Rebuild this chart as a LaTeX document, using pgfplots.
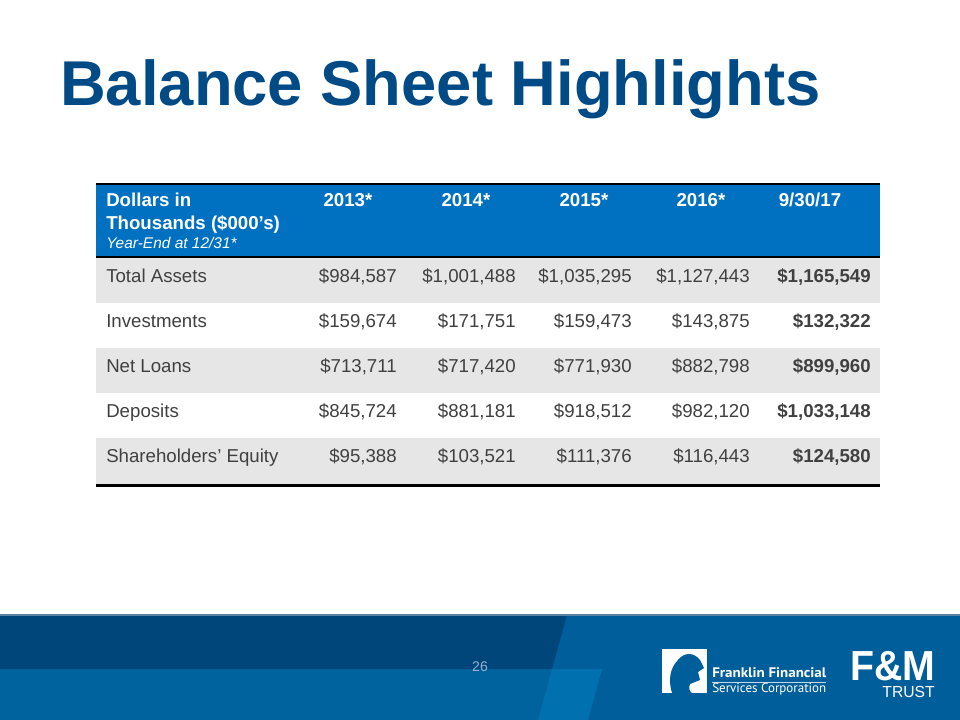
\documentclass[border=0pt]{standalone}
\usepackage{fontspec}
\setmainfont{Liberation Sans}
\newfontfamily\logofont{PT Sans}
\usepackage{pgfplots}
\usepackage{pgfplotstable}
\pgfplotsset{compat=1.18}

\definecolor{titleblue}{RGB}{0,74,134}
\definecolor{headblue}{RGB}{0,112,192}
\definecolor{rowgray}{RGB}{230,230,230}
\definecolor{bodytext}{RGB}{64,64,64}
\definecolor{footdark}{RGB}{0,70,122}
\definecolor{footmid}{RGB}{0,99,158}
\definecolor{footright}{RGB}{0,94,154}
\definecolor{footlight}{RGB}{0,112,175}
\definecolor{footedge}{RGB}{90,130,160}
\definecolor{pagenum}{RGB}{150,178,208}

% baseline of each row (px from top), values in $000
\pgfplotstableread{
y    c13    c14     c15     c16     c17
282  984587 1001488 1035295 1127443 1165549
327  159674 171751  159473  143875  132322
372  713711 717420  771930  882798  899960
417  845724 881181  918512  982120  1033148
462  95388  103521  111376  116443  124580
}\bsdata

\pgfplotstableread{
y   name
282 {Total Assets}
327 {Investments}
372 {Net Loans}
417 {Deposits}
462 {Shareholders’ Equity}
}\bsrows

\begin{document}
\begin{tikzpicture}
\begin{axis}[
  width=720pt, height=540pt, scale only axis,
  xmin=0, xmax=960, ymin=0, ymax=720, y dir=reverse,
  hide axis, clip=false,
  every node near coord/.append style={inner sep=0pt, anchor=base east,
    text=bodytext, font=\fontsize{14}{16}\selectfont},
  /pgf/number format/.cd, fixed, precision=0, 1000 sep={,}, assume math mode=true,
]
% page background
\fill[white] (axis cs:0,0) rectangle (axis cs:960,720);

% title
\node[anchor=base west, inner sep=0pt, text=titleblue,
  font=\fontsize{47.5}{50}\selectfont\bfseries] at (axis cs:60,106) {Balance Sheet Highlights};

% table body
\fill[black] (axis cs:96,183) rectangle (axis cs:880,185.5);
\fill[headblue] (axis cs:96,185.5) rectangle (axis cs:880,256);
\fill[black] (axis cs:96,256) rectangle (axis cs:880,258);
\fill[rowgray] (axis cs:96,258) rectangle (axis cs:880,303);
\fill[rowgray] (axis cs:96,348) rectangle (axis cs:880,393);
\fill[rowgray] (axis cs:96,438) rectangle (axis cs:880,483.5);
\fill[black] (axis cs:96,483.5) rectangle (axis cs:880,486.5);

% header
\begin{scope}[every node/.style={inner sep=0pt, text=white, font=\fontsize{14}{16}\selectfont\bfseries}]
\node[anchor=base west] at (axis cs:106,207) {Dollars in};
\node[anchor=base west] at (axis cs:106,230) {Thousands (\$000’s)};
\node[anchor=base west, font=\fontsize{11.6}{13}\selectfont\itshape] at (axis cs:106,249) {Year-End at 12/31*};
\node[anchor=base] at (axis cs:348,207) {2013*};
\node[anchor=base] at (axis cs:466,207) {2014*};
\node[anchor=base] at (axis cs:584,207) {2015*};
\node[anchor=base] at (axis cs:701,207) {2016*};
\node[anchor=base] at (axis cs:810,207) {9/30/17};
\end{scope}

% row names
\addplot[draw=none, point meta=explicit symbolic, nodes near coords,
  nodes near coords style={anchor=base west}]
  table[x expr=106, y=y, meta=name] {\bsrows};

% values
\addplot[draw=none, point meta=explicit, nodes near coords={\$\pgfmathprintnumber{\pgfplotspointmeta}}]
  table[x expr=397, y=y, meta=c13] {\bsdata};
\addplot[draw=none, point meta=explicit, nodes near coords={\$\pgfmathprintnumber{\pgfplotspointmeta}}]
  table[x expr=516, y=y, meta=c14] {\bsdata};
\addplot[draw=none, point meta=explicit, nodes near coords={\$\pgfmathprintnumber{\pgfplotspointmeta}}]
  table[x expr=632, y=y, meta=c15] {\bsdata};
\addplot[draw=none, point meta=explicit, nodes near coords={\$\pgfmathprintnumber{\pgfplotspointmeta}}]
  table[x expr=750, y=y, meta=c16] {\bsdata};
\addplot[draw=none, point meta=explicit, nodes near coords={\$\pgfmathprintnumber{\pgfplotspointmeta}},
  nodes near coords style={font=\fontsize{14}{16}\selectfont\bfseries}]
  table[x expr=871, y=y, meta=c17] {\bsdata};

% footer band
\fill[footright] (axis cs:0,615) rectangle (axis cs:960,720);
\fill[footmid] (axis cs:0,669) -- (axis cs:602,669) -- (axis cs:588,720) -- (axis cs:0,720) -- cycle;
\fill[footlight] (axis cs:552,669) -- (axis cs:602,669) -- (axis cs:588,720) -- (axis cs:538,720) -- cycle;
\fill[footdark] (axis cs:0,615) -- (axis cs:567,615) -- (axis cs:552,669) -- (axis cs:0,669) -- cycle;
\fill[footedge] (axis cs:0,614) rectangle (axis cs:960,616);
\node[inner sep=0pt, text=pagenum, font=\fontsize{10.5}{12}\selectfont] at (axis cs:480,667) {26};

% logos
\fill[white] (axis cs:662,649) rectangle (axis cs:707,693);
\fill[footright] (axis cs:672,693) .. controls (axis cs:668,680) and (axis cs:670,668) .. (axis cs:678,660)
  .. controls (axis cs:684,652) and (axis cs:694,652) .. (axis cs:700,660)
  -- (axis cs:704,668) -- (axis cs:698,672) -- (axis cs:700,680) -- (axis cs:690,684)
  .. controls (axis cs:688,688) and (axis cs:690,692) .. (axis cs:692,693) -- cycle;
\node[anchor=base west, inner sep=0pt, text=white, font=\logofont\bfseries]
  at (axis cs:712,677) {\resizebox{85.5pt}{7.4pt}{Franklin Financial}};
\fill[white!75!footright] (axis cs:712,681.5) rectangle (axis cs:826,682.5);
\node[anchor=base west, inner sep=0pt, text=white, font=\logofont]
  at (axis cs:712,692) {\resizebox{85.5pt}{7pt}{Services Corporation}};
\node[anchor=base west, inner sep=0pt, text=white, font=\bfseries]
  at (axis cs:850,680) {\resizebox{63.75pt}{21.8pt}{F\&M}};
\node[anchor=base east, inner sep=0pt, text=white, font=\fontsize{12}{13}\selectfont]
  at (axis cs:935,697) {\scalebox{0.98}[1]{TRUST}};
\end{axis}
\end{tikzpicture}
\end{document}
